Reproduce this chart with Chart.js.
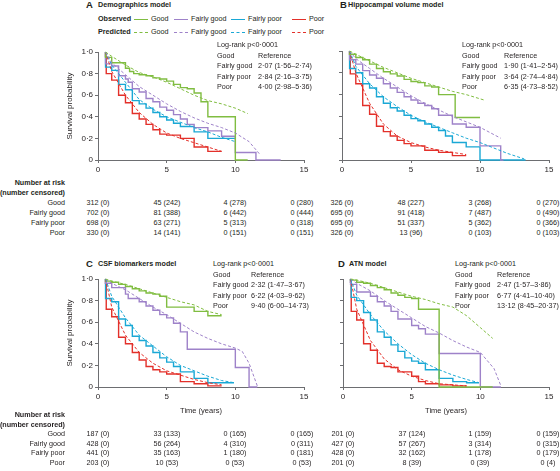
<!DOCTYPE html>
<html>
<head>
<meta charset="utf-8">
<script src="https://cdn.jsdelivr.net/npm/chart.js@4"></script>
<style>
body{margin:0;width:560px;height:471px;background:#fff;position:relative;overflow:hidden;
  font-family:'Liberation Sans',Arial,sans-serif;color:#231f20;font-size:7.2px}
.t{position:absolute;white-space:nowrap;line-height:1;transform:translateY(-50%)}
.t.c{transform:translate(-50%,-50%)}
.t.r{transform:translate(-100%,-50%)}
.b{font-weight:bold}
canvas{position:absolute}
.ln{position:absolute;width:14px;height:0;border-top:1.5px solid}
.ln.d{border-top:1px dashed}
</style>
</head>
<body>
<script>
// ---- data ----
const groups = ['Good', 'Fairly good', 'Fairly poor', 'Poor'];
const xTicks = [0, 5, 10, 15];

// A: demographics model
const demoGoodObs = [[0.55,1],[1,0.95],[2,0.9],[2.3,0.85],[2.6,0.82],[3,0.8],[3.5,0.79],[4,0.78],[4.5,0.76],[5,0.75],[5.5,0.73],[6,0.7],[6.5,0.67],[7,0.66],[7.5,0.62],[8,0.54],[10,0.4],[10.9,0]];
const demoGoodPred = [[0.55,1],[1,0.96],[2,0.88],[3,0.81],[4,0.77],[5,0.72],[6,0.66],[7,0.6],[8,0.55],[9,0.52],[10,0.48],[10.9,0.43]];
const demoFairGoodObs = [[0.55,1],[1,0.89],[1.5,0.87],[2,0.78],[2.2,0.75],[2.5,0.72],[3,0.66],[3.5,0.63],[4,0.57],[4.5,0.54],[5,0.49],[5.5,0.46],[6,0.42],[6.5,0.38],[7,0.33],[8,0.3],[9,0.27],[10,0.22],[11.5,0.07],[13.3,0]];
const demoFairGoodPred = [[0.55,1],[1,0.9],[2,0.79],[3,0.68],[4,0.6],[5,0.52],[6,0.45],[7,0.39],[8,0.34],[9,0.3],[10,0.25],[11,0.17],[11.8,0.05]];
const demoFairPoorObs = [[0.55,1],[1,0.86],[1.5,0.83],[2,0.7],[2.5,0.65],[3,0.55],[3.5,0.52],[4,0.48],[4.5,0.44],[5,0.4],[5.5,0.37],[6,0.34],[7,0.31],[8,0.26],[9,0.2],[10,0.2]];
const demoFairPoorPred = [[0.55,1],[1,0.88],[2,0.72],[3,0.56],[4,0.47],[5,0.4],[6,0.35],[7,0.3],[8,0.26],[9,0.21],[10,0.17]];
const demoPoorObs = [[0.55,1],[0.6,0.96],[1,0.8],[1.5,0.74],[2,0.6],[2.5,0.53],[3,0.43],[3.5,0.38],[4,0.33],[4.5,0.28],[5,0.24],[6,0.23],[7,0.2],[8,0.12],[9,0.08]];
const demoPoorPred = [[0.55,1],[1,0.82],[2,0.6],[3,0.44],[4,0.33],[5,0.25],[6,0.2],[7,0.16],[8,0.12],[9,0.08]];

// B: hippocampal volume model
const hipGoodObs = [[0.55,1],[1,0.97],[1.5,0.94],[2,0.92],[2.5,0.88],[3,0.84],[3.5,0.81],[4,0.79],[4.5,0.77],[5,0.74],[5.5,0.72],[6,0.71],[6.5,0.68],[7,0.67],[8.2,0.6],[10,0.39]];
const hipGoodPred = [[0.55,1],[1,0.97],[2,0.91],[3,0.85],[4,0.8],[5,0.75],[6,0.71],[7,0.67],[8,0.63],[9,0.6],[10.3,0.55]];
const hipFairGoodObs = [[0.55,1],[1,0.92],[1.5,0.88],[2,0.82],[2.5,0.78],[3,0.75],[3.5,0.7],[4,0.66],[4.5,0.62],[5,0.58],[5.5,0.55],[6,0.52],[6.5,0.5],[7,0.47],[8,0.41],[9,0.33],[10,0.3],[11.5,0.13],[11.7,0]];
const hipFairGoodPred = [[0.55,1],[1,0.93],[2,0.84],[3,0.75],[4,0.67],[5,0.59],[6,0.52],[7,0.46],[8,0.4],[9,0.35],[10,0.3],[11.5,0.2]];
const hipFairPoorObs = [[0.55,1],[1,0.84],[1.5,0.8],[2,0.7],[2.5,0.66],[3,0.58],[3.5,0.52],[4,0.48],[4.5,0.45],[5,0.41],[5.5,0.38],[6,0.36],[6.5,0.33],[7,0.3],[7.5,0.27],[8,0.22],[9,0.16],[10,0.12],[13.3,0]];
const hipFairPoorPred = [[0.55,1],[1,0.86],[2,0.7],[3,0.58],[4,0.49],[5,0.41],[6,0.35],[7,0.3],[8,0.25],[9,0.2],[10,0.16],[11,0.11],[12,0.06],[13.2,0.01]];
const hipPoorObs = [[0.55,1],[0.6,0.97],[1,0.79],[1.5,0.7],[2,0.5],[2.5,0.42],[3,0.31],[3.5,0.26],[4,0.22],[4.5,0.18],[5,0.15],[6,0.13],[7,0.09],[8,0.07],[9,0.04]];
const hipPoorPred = [[0.55,1],[1,0.8],[2,0.52],[3,0.33],[4,0.22],[5,0.16],[6,0.12],[7,0.09],[8,0.07],[9,0.05]];

// C: CSF biomarkers model
const csfGoodObs = [[0.55,1],[1,0.98],[1.5,0.97],[2,0.95],[2.5,0.93],[3,0.91],[3.5,0.89],[4,0.87],[4.5,0.86],[5,0.84],[7,0.74],[8,0.7],[9,0.66]];
const csfGoodPred = [[0.55,1],[1,0.98],[2,0.95],[3,0.91],[4,0.87],[5,0.83],[6,0.79],[7,0.76],[8,0.7],[9,0.67]];
const csfFairGoodObs = [[0.55,1],[1,0.96],[2,0.92],[2.2,0.86],[3,0.82],[3.5,0.79],[4,0.75],[4.5,0.71],[5,0.67],[5.5,0.64],[6,0.59],[6.5,0.51],[10,0.35],[11,0.18],[11.6,0]];
const csfFairGoodPred = [[0.55,1],[1,0.96],[2,0.9],[3,0.82],[4,0.74],[5,0.67],[6,0.59],[7,0.51],[8,0.45],[9,0.4],[10,0.36],[10.5,0.33],[11,0.22],[11.6,0.01]];
const csfFairPoorObs = [[0.55,1],[1,0.82],[1.5,0.79],[2,0.63],[2.5,0.57],[3,0.47],[3.5,0.43],[4,0.38],[4.5,0.32],[5,0.27],[5.5,0.23],[6,0.19],[7,0.14],[8,0.08],[9,0.04],[9.9,0.04]];
const csfFairPoorPred = [[0.55,1],[1,0.84],[2,0.64],[3,0.48],[4,0.38],[5,0.28],[6,0.2],[7,0.15],[8,0.1],[9,0.06],[9.9,0.04]];
const csfPoorObs = [[0.55,1],[0.6,0.96],[1,0.72],[1.5,0.65],[2,0.46],[2.5,0.4],[3,0.32],[3.5,0.25],[4,0.19],[4.5,0.16],[5,0.14],[6,0.12],[7,0.05],[8,0.03],[9,0.01]];
const csfPoorPred = [[0.55,1],[1,0.74],[2,0.48],[3,0.32],[4,0.22],[5,0.15],[6,0.11],[7,0.07],[8,0.04],[9,0.02]];

// D: ATN model
const atnGoodObs = [[0.55,1],[1,0.99],[1.5,0.97],[2,0.96],[2.5,0.94],[3,0.92],[3.5,0.9],[4,0.87],[4.5,0.85],[5,0.83],[5.5,0.82],[7,0.72],[10.9,0]];
const atnGoodPred = [[0.55,1],[1,0.99],[2,0.96],[3,0.92],[4,0.88],[5,0.84],[6,0.81],[7,0.77],[8,0.74],[9,0.66],[10,0.55],[10.9,0.45]];
const atnFairGoodObs = [[0.55,1],[1,0.95],[2,0.88],[2.5,0.84],[3,0.79],[3.5,0.75],[4,0.7],[5,0.63],[5.5,0.57],[6,0.54],[7,0.49],[10,0.31],[11.5,0]];
const atnFairGoodPred = [[0.55,1],[1,0.96],[2,0.89],[3,0.8],[4,0.72],[5,0.64],[6,0.56],[7,0.5],[8,0.43],[9,0.37],[10,0.32],[11,0.17],[11.5,0.01]];
const atnFairPoorObs = [[0.55,1],[0.6,0.97],[1,0.83],[1.5,0.8],[2,0.69],[2.5,0.62],[3,0.51],[3.5,0.46],[4,0.39],[4.5,0.33],[5,0.27],[5.5,0.24],[6,0.22],[7,0.16],[8,0.08],[9,0.05],[9.9,0.04]];
const atnFairPoorPred = [[0.55,1],[1,0.85],[2,0.67],[3,0.52],[4,0.4],[5,0.3],[6,0.22],[7,0.16],[8,0.11],[9,0.07],[9.9,0.04]];
const atnPoorObs = [[0.55,1],[0.6,0.97],[1,0.7],[1.5,0.62],[2,0.4],[2.5,0.34],[3,0.22],[3.5,0.19],[4,0.18],[5,0.14],[5.5,0.1],[6,0.05],[7,0.03],[8,0.02],[9,0.01]];
const atnPoorPred = [[0.55,1],[1,0.72],[2,0.43],[3,0.26],[4,0.16],[5,0.1],[6,0.06],[7,0.03],[8,0.02],[9,0.01]];

// hazard ratios (Fairly good, Fairly poor, Poor vs Good)
const demoHR = ['2·07 (1·56–2·74)', '2·84 (2·16–3·75)', '4·00 (2·98–5·36)'];
const hipHR = ['1·90 (1·41–2·54)', '3·64 (2·74–4·84)', '6·35 (4·73–8·52)'];
const csfHR = ['2·32 (1·47–3·67)', '6·22 (4·03–9·62)', '9·40 (6·00–14·73)'];
const atnHR = ['2·47 (1·57–3·86)', '6·77 (4·41–10·40)', '13·12 (8·45–20·37)'];

// number at risk (number censored) at 0, 5, 10, 15 years
const demoRisk = [['312 (0)','45 (242)','4 (278)','0 (280)'],['702 (0)','81 (388)','6 (442)','0 (444)'],['698 (0)','63 (271)','5 (313)','0 (318)'],['330 (0)','14 (141)','0 (151)','0 (151)']];
const hipRisk = [['326 (0)','48 (227)','3 (268)','0 (270)'],['695 (0)','91 (418)','7 (487)','0 (490)'],['695 (0)','51 (337)','5 (362)','0 (366)'],['326 (0)','13 (96)','0 (103)','0 (103)']];
const csfRisk = [['187 (0)','33 (133)','0 (165)','0 (165)'],['428 (0)','56 (264)','4 (310)','0 (311)'],['441 (0)','35 (163)','1 (180)','0 (181)'],['203 (0)','10 (53)','0 (53)','0 (53)']];
const atnRisk = [['201 (0)','37 (124)','1 (159)','0 (159)'],['427 (0)','57 (267)','3 (314)','0 (315)'],['428 (0)','32 (162)','1 (178)','0 (179)'],['201 (0)','8 (39)','0 (39)','0 (4)']];

// ---- styling ----
const colours = ['#80bd41', '#9e82c9', '#1aa8d5', '#e3302a'];
const FONT = "'Liberation Sans',Arial,sans-serif";
const INK = '#231f20';
const AXIS = '#6d6e71';

function txt(s, x, y, cls, size) {
  const d = document.createElement('div');
  d.className = 't ' + (cls || '');
  d.style.left = x + 'px';
  d.style.top = y + 'px';
  if (size) d.style.fontSize = size + 'px';
  d.textContent = s;
  document.body.appendChild(d);
}

function line(x, y, colour, dashed) {
  const d = document.createElement('div');
  d.className = 'ln' + (dashed ? ' d' : '');
  d.style.left = x + 'px';
  d.style.top = y + 'px';
  d.style.borderTopColor = colour;
  document.body.appendChild(d);
}

function panel(box, obs, pred, first, bottom) {
  const cv = document.createElement('canvas');
  cv.width = box.w; cv.height = box.h;
  cv.style.left = box.x + 'px'; cv.style.top = box.y + 'px';
  document.body.appendChild(cv);

  const datasets = [];
  groups.forEach((g, i) => {
    datasets.push({
      label: g + ' predicted', data: pred[i].map(p => ({x: p[0], y: p[1]})),
      borderColor: colours[i], borderWidth: 1, borderDash: [3, 2],
      pointRadius: 0, fill: false, tension: 0, clip: 3
    });
  });
  groups.forEach((g, i) => {
    datasets.push({
      label: g + ' observed', data: obs[i].map(p => ({x: p[0], y: p[1]})),
      borderColor: colours[i], borderWidth: 1.4, stepped: 'after',
      pointRadius: 0, fill: false, clip: 3
    });
  });

  const gridOpts = {display: true, drawOnChartArea: false, drawTicks: true, tickLength: 3, color: AXIS};
  new Chart(cv, {
    type: 'line',
    data: {datasets: datasets},
    options: {
      responsive: false,
      animation: false,
      layout: {padding: {top: 8, right: 11, left: 0, bottom: 0}},
      plugins: {legend: {display: false}, tooltip: {enabled: false}},
      scales: {
        x: {
          type: 'linear', min: 0, max: 15,
          afterBuildTicks: s => { s.ticks = xTicks.map(v => ({value: v})); },
          ticks: {font: {family: FONT, size: 8}, color: INK, padding: 2, maxRotation: 0},
          grid: gridOpts,
          border: {color: AXIS, width: 1},
          title: {display: bottom, text: 'Time (years)', font: {family: FONT, size: 7.5}, color: INK, padding: 0},
          afterFit: s => { s.height = box.xh; }
        },
        y: {
          min: 0, max: 1,
          ticks: {
            stepSize: 0.2, display: first, font: {family: FONT, size: 8}, color: INK, padding: 2,
            callback: v => v === 0 ? '0' : v.toFixed(1).replace('.', '·')
          },
          grid: gridOpts,
          border: {color: AXIS, width: 1},
          title: {display: first, text: 'Survival probability', font: {family: FONT, size: 8}, color: INK, padding: {top: 15}},
          afterFit: s => { s.width = box.yw; }
        }
      }
    }
  });
}

function hrBlock(x, y, hr, col2) {
  txt('Log-rank p<0·0001', x, y);
  txt('Good', x, y + 10.5);
  txt('Reference', x + col2, y + 10.5);
  for (let i = 0; i < 3; i++) {
    txt(groups[i + 1], x, y + 21 + i * 10.5);
    txt(hr[i], x + col2, y + 21 + i * 10.5);
  }
}

function riskTable(y, xs, rows, labels, gap) {
  if (labels) {
    txt('Number at risk', 65, y, 'r b');
    txt('(number censored)', 65, y + gap, 'r b');
  }
  rows.forEach((r, i) => {
    const ry = y + 2 * gap + i * gap;
    if (labels) txt(groups[i], 65, ry, 'r');
    r.forEach((v, j) => txt(v, xs[j], ry, 'c'));
  });
}

// ---- panels ----
panel({x: 50, y: 44, w: 265, h: 134, yw: 48, xh: 18}, [demoGoodObs, demoFairGoodObs, demoFairPoorObs, demoPoorObs], [demoGoodPred, demoFairGoodPred, demoFairPoorPred, demoPoorPred], true, false);
panel({x: 320, y: 43, w: 240, h: 135, yw: 22, xh: 18}, [hipGoodObs, hipFairGoodObs, hipFairPoorObs, hipPoorObs], [hipGoodPred, hipFairGoodPred, hipFairPoorPred, hipPoorPred], false, false);
panel({x: 50, y: 271, w: 265, h: 144, yw: 48, xh: 28}, [csfGoodObs, csfFairGoodObs, csfFairPoorObs, csfPoorObs], [csfGoodPred, csfFairGoodPred, csfFairPoorPred, csfPoorPred], true, true);
panel({x: 320, y: 271, w: 240, h: 144, yw: 23, xh: 28}, [atnGoodObs, atnFairGoodObs, atnFairPoorObs, atnPoorObs], [atnGoodPred, atnFairGoodPred, atnFairPoorPred, atnPoorPred], false, true);

// titles
txt('A', 86, 5, 'b', 9.5); txt('Demographics model', 98, 5, 'b');
txt('B', 340, 5, 'b', 9.5); txt('Hippocampal volume model', 348, 5, 'b');
txt('C', 86, 264, 'b', 9.5); txt('CSF biomarkers model', 98, 264, 'b');
txt('D', 338, 264, 'b', 9.5); txt('ATN model', 349, 264, 'b');

// legend
txt('Observed', 98, 19, 'b');
txt('Predicted', 98, 32, 'b');
const legLine = [134, 174, 231, 292];
groups.forEach((g, i) => {
  line(legLine[i], 18.5, colours[i], false);
  line(legLine[i], 32, colours[i], true);
  txt(g, legLine[i] + 17, 19);
  txt(g, legLine[i] + 17, 32);
});

// hazard ratio blocks
hrBlock(217, 45, demoHR, 41);
hrBlock(462, 45, hipHR, 42);
hrBlock(213, 264, csfHR, 38);
hrBlock(455, 264, atnHR, 42);

// number at risk tables
riskTable(183, [98, 167, 235, 302], demoRisk, true, 10);
riskTable(183, [342, 411, 480, 548], hipRisk, false, 10);
riskTable(415, [98, 167, 235, 302], csfRisk, true, 9.6);
riskTable(415, [343, 412, 480, 548], atnRisk, false, 9.6);
</script>
</body>
</html>
